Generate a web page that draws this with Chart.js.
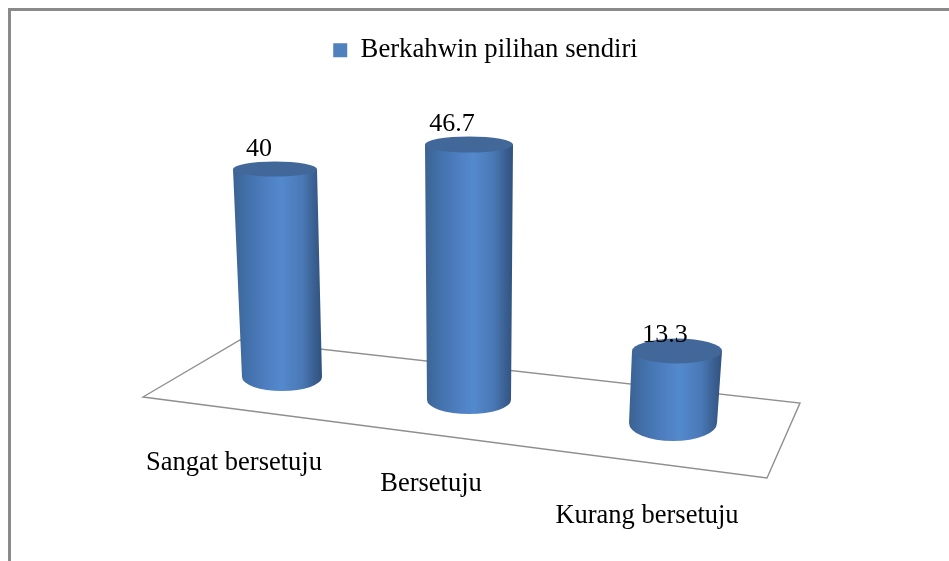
<!DOCTYPE html>
<html>
<head>
<meta charset="utf-8">
<style>html,body{margin:0;padding:0;background:#fff}#wrap{width:949px;height:561px}</style>
<script src="https://cdn.jsdelivr.net/npm/chart.js@4"></script>
</head>
<body>
<div id="wrap"><canvas id="c" width="949" height="561"></canvas></div>
<script>
const categories = ["Sangat bersetuju", "Bersetuju", "Kurang bersetuju"];
const seriesName = "Berkahwin pilihan sendiri";
const seriesValues = [40, 46.7, 13.3];
const valueLabels = ["40", "46.7", "13.3"];

const FONT = '"Liberation Serif", "Times New Roman", serif';
const view = {
  topDx: [-13.5, -16.5, -5.5], bottomDx: [-6.5, -16.5, -9.5],
  floorDrop: [-23, 0, 23], stretch: [0.956, 1.006, 0.995],
  topHalf: [42, 44, 45], bottomHalf: [40, 42, 44],
  topRy: [7.5, 8, 12.5], bottomRy: [14, 14, 18],
  labelDx: [-16, -17, -12], labelDy: [-20, -20.5, -16],
  catX: [234, 431, 647], catY: [463, 484, 516]
};

const scene = {
  id: 'scene',
  beforeDatasetsDraw(chart) {
    const ctx = chart.ctx;
    ctx.save();
    ctx.strokeStyle = '#8a8a8a'; ctx.lineWidth = 3;
    ctx.beginPath(); ctx.moveTo(9.5, 561); ctx.lineTo(9.5, 9.5); ctx.lineTo(949, 9.5); ctx.stroke();
    ctx.strokeStyle = '#8f8f8f'; ctx.lineWidth = 1.4; ctx.lineJoin = 'miter';
    ctx.beginPath();
    ctx.moveTo(143, 397); ctx.lineTo(240, 340); ctx.lineTo(800, 403); ctx.lineTo(767, 478); ctx.closePath();
    ctx.stroke();
    ctx.restore();
  },
  beforeDatasetDraw(chart, args) {
    const ctx = chart.ctx, y = chart.scales.y, bars = chart.getDatasetMeta(args.index).data;
    const y0 = y.getPixelForValue(0);
    bars.forEach((bar, i) => {
      const cyFloor = y0 + view.floorDrop[i];
      const h = (y0 - y.getPixelForValue(seriesValues[i])) * view.stretch[i];
      const cyTop = cyFloor - h;
      const tx = bar.x + view.topDx[i], bx = bar.x + view.bottomDx[i];
      const tr = view.topHalf[i], br = view.bottomHalf[i];
      const left = Math.min(tx - tr, bx - br), right = Math.max(tx + tr, bx + br);
      const g = ctx.createLinearGradient(left, 0, right, 0);
      g.addColorStop(0, '#3c6292');
      g.addColorStop(0.14, '#416fa8');
      g.addColorStop(0.4, '#4f80c3');
      g.addColorStop(0.55, '#5389cd');
      g.addColorStop(0.78, '#4a78b5');
      g.addColorStop(0.94, '#375b8b');
      g.addColorStop(1, '#30527c');
      ctx.save();
      ctx.beginPath();
      ctx.moveTo(tx - tr, cyTop);
      ctx.lineTo(bx - br, cyFloor);
      ctx.ellipse(bx, cyFloor, br, view.bottomRy[i], 0, Math.PI, 0, true);
      ctx.lineTo(tx + tr, cyTop);
      ctx.closePath();
      ctx.fillStyle = g; ctx.fill();
      ctx.beginPath();
      ctx.ellipse(tx, cyTop, tr, view.topRy[i], 0, 0, Math.PI * 2);
      ctx.fillStyle = '#42689a'; ctx.fill();
      ctx.restore();
    });
    return false;
  },
  afterDatasetsDraw(chart) {
    const ctx = chart.ctx, y = chart.scales.y, bars = chart.getDatasetMeta(0).data;
    const y0 = y.getPixelForValue(0);
    ctx.save();
    ctx.fillStyle = '#000'; ctx.textAlign = 'center'; ctx.textBaseline = 'middle';
    ctx.font = '26px ' + FONT;
    bars.forEach((bar, i) => {
      const cyTop = y0 + view.floorDrop[i] - (y0 - y.getPixelForValue(seriesValues[i])) * view.stretch[i];
      ctx.fillText(valueLabels[i], bar.x + view.topDx[i] + view.labelDx[i], cyTop + view.labelDy[i]);
    });
    ctx.font = '26.5px ' + FONT;
    categories.forEach((c, i) => ctx.fillText(c, view.catX[i], view.catY[i]));
    ctx.restore();
  }
};

new Chart(document.getElementById('c'), {
  type: 'bar',
  data: {
    labels: categories,
    datasets: [{ label: seriesName, data: seriesValues, backgroundColor: '#4f81bd', borderWidth: 0,
                 categoryPercentage: 0.9, barPercentage: 0.48 }]
  },
  options: {
    responsive: false, animation: false,
    layout: { padding: { left: 190, right: 168, top: 27, bottom: 161 } },
    scales: {
      x: { display: false },
      y: { display: false, min: 0, max: 60 }
    },
    plugins: {
      tooltip: { enabled: false },
      legend: { position: 'top', align: 'center',
        labels: { boxWidth: 14, boxHeight: 14, padding: 10, color: '#000',
                  font: { family: FONT, size: 26.7 } } }
    }
  },
  plugins: [scene]
});
</script>
</body>
</html>
